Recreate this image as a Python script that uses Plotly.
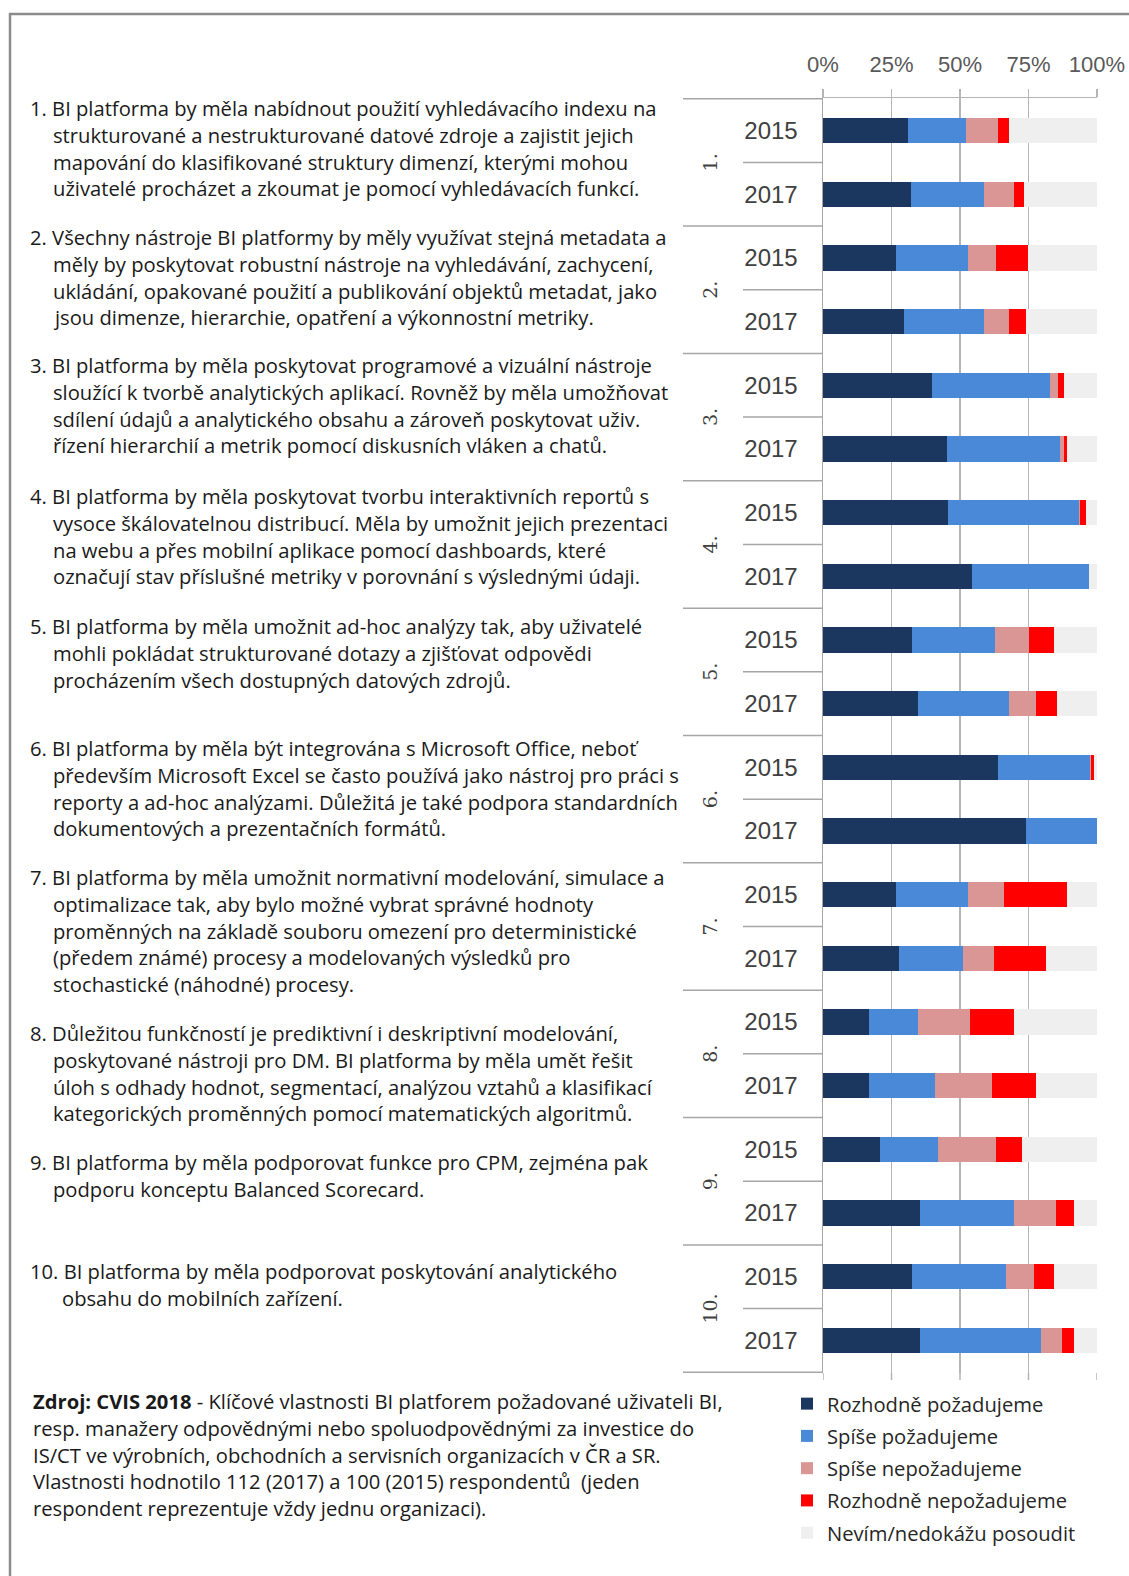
import plotly.graph_objects as go

# ---------------- data ----------------
groups = ["1.", "2.", "3.", "4.", "5.", "6.", "7.", "8.", "9.", "10."]
years = ["2015", "2017"]
categories = [f"{g} {y}" for g in groups for y in years]

rozhodne_pozadujeme = [31.0, 32.2, 26.8, 29.6, 39.8, 45.4, 45.6, 54.4, 32.5, 34.5,
                       63.9, 74.1, 26.6, 27.6, 16.9, 16.9, 20.8, 35.3, 32.5, 35.3]
spise_pozadujeme = [21.1, 26.7, 26.2, 29.3, 43.2, 41.2, 47.7, 42.6, 30.4, 33.3,
                    33.4, 25.9, 26.4, 23.4, 17.8, 23.9, 21.2, 34.5, 34.4, 44.4]
spise_nepozadujeme = [11.8, 10.7, 10.0, 8.9, 2.8, 1.2, 0.4, 0.0, 12.2, 9.9,
                      0.4, 0.0, 13.1, 11.3, 18.9, 20.9, 21.0, 15.4, 10.1, 7.6]
rozhodne_nepozadujeme = [4.0, 3.8, 11.9, 6.3, 2.3, 1.3, 2.2, 0.0, 9.2, 7.7,
                         1.2, 0.0, 23.0, 19.0, 16.2, 16.0, 9.6, 6.5, 7.2, 4.4]
nevim = [32.1, 26.6, 25.1, 25.9, 11.9, 10.9, 4.1, 3.0, 15.7, 14.6,
         1.1, 0.0, 10.9, 18.7, 30.2, 22.3, 27.4, 8.3, 15.8, 8.3]

series_names = ["Rozhodně požadujeme", "Spíše požadujeme", "Spíše nepožadujeme",
                "Rozhodně nepožadujeme", "Nevím/nedokážu posoudit"]
series_values = [rozhodne_pozadujeme, spise_pozadujeme, spise_nepozadujeme,
                 rozhodne_nepozadujeme, nevim]
series_colors = ["#1B365F", "#4A88D8", "#D99694", "#FF0000", "#EFEFEF"]

x_ticks = [0, 25, 50, 75, 100]

descriptions = [
    ["1. BI platforma by měla nabídnout použití vyhledávacího indexu na",
     "strukturované a nestrukturované datové zdroje a zajistit jejich",
     "mapování do klasifikované struktury dimenzí, kterými mohou",
     "uživatelé procházet a zkoumat je pomocí vyhledávacích funkcí."],
    ["2. Všechny nástroje BI platformy by měly využívat stejná metadata a",
     "měly by poskytovat robustní nástroje na vyhledávání, zachycení,",
     "ukládání, opakované použití a publikování objektů metadat, jako",
     "jsou dimenze, hierarchie, opatření a výkonnostní metriky."],
    ["3. BI platforma by měla poskytovat programové a vizuální nástroje",
     "sloužící k tvorbě analytických aplikací. Rovněž by měla umožňovat",
     "sdílení údajů a analytického obsahu a zároveň poskytovat uživ.",
     "řízení hierarchií a metrik pomocí diskusních vláken a chatů."],
    ["4. BI platforma by měla poskytovat tvorbu interaktivních reportů s",
     "vysoce škálovatelnou distribucí. Měla by umožnit jejich prezentaci",
     "na webu a přes mobilní aplikace pomocí dashboards, které",
     "označují stav příslušné metriky v porovnání s výslednými údaji."],
    ["5. BI platforma by měla umožnit ad-hoc analýzy tak, aby uživatelé",
     "mohli pokládat strukturované dotazy a zjišťovat odpovědi",
     "procházením všech dostupných datových zdrojů."],
    ["6. BI platforma by měla být integrována s Microsoft Office, neboť",
     "především Microsoft Excel se často používá jako nástroj pro práci s",
     "reporty a ad-hoc analýzami. Důležitá je také podpora standardních",
     "dokumentových a prezentačních formátů."],
    ["7. BI platforma by měla umožnit normativní modelování, simulace a",
     "optimalizace tak, aby bylo možné vybrat správné hodnoty",
     "proměnných na základě souboru omezení pro deterministické",
     "(předem známé) procesy a modelovaných výsledků pro",
     "stochastické (náhodné) procesy."],
    ["8. Důležitou funkčností je prediktivní i deskriptivní modelování,",
     "poskytované nástroji pro DM. BI platforma by měla umět řešit",
     "úloh s odhady hodnot, segmentací, analýzou vztahů a klasifikací",
     "kategorických proměnných pomocí matematických algoritmů."],
    ["9. BI platforma by měla podporovat funkce pro CPM, zejména pak",
     "podporu konceptu Balanced Scorecard."],
    ["10. BI platforma by měla podporovat poskytování analytického",
     "obsahu do mobilních zařízení."],
]

source_lines = [
    "<b>Zdroj: CVIS 2018</b> - Klíčové vlastnosti BI platforem požadované uživateli BI,",
    "resp. manažery odpovědnými nebo spoluodpovědnými za investice do",
    "IS/CT ve výrobních, obchodních a servisních organizacích v ČR a SR.",
    "Vlastnosti hodnotilo 112 (2017) a 100 (2015) respondentů  (jeden",
    "respondent reprezentuje vždy jednu organizaci).",
]

# ---------------- layout constants ----------------
W, H = 1129, 1576
def px(x):
    return x / W
def py(y):
    return 1 - y / H

TEXT_FONT = "'Open Sans', Lato, sans-serif"
TEXT_SIZE = 20.2
AX_FONT = "'Liberation Sans', Arial, sans-serif"

fig = go.Figure()
for name, vals, col in zip(series_names, series_values, series_colors):
    fig.add_trace(go.Bar(
        y=categories, x=vals, name=name, orientation="h",
        marker=dict(color=col, line=dict(width=0)),
        legendgroup=name,
    ))

fig.update_layout(
    width=W, height=H,
    margin=dict(l=0, r=0, t=0, b=0, autoexpand=False),
    paper_bgcolor="white", plot_bgcolor="white",
    barmode="stack", bargap=0.6,
    showlegend=True,
    legend=dict(
        x=px(787), y=py(1384), xanchor="left", yanchor="top",
        traceorder="grouped", tracegroupgap=3,
        font=dict(family=TEXT_FONT, size=TEXT_SIZE, color="#262626"),
        bgcolor="rgba(0,0,0,0)", itemclick=False,
    ),
    xaxis=dict(
        domain=[px(823), px(1097)], range=[0, 100], side="top",
        tickvals=x_ticks, ticktext=[f"{t}%" for t in x_ticks],
        showgrid=True, gridcolor="#B5B5B5", gridwidth=1.5,
        zeroline=False, showline=True, linecolor="#B5B5B5", linewidth=1.5,
        ticks="outside", ticklen=8, tickcolor="#B5B5B5", tickwidth=1.5,
        ticklabelstandoff=8, automargin=False,
        tickfont=dict(family=AX_FONT, size=22, color="#595959"),
        fixedrange=True,
    ),
    yaxis=dict(
        domain=[py(1373), py(98)], autorange="reversed",
        type="category", categoryorder="array", categoryarray=categories,
        tickvals=categories, ticktext=[y for g in groups for y in years],
        showgrid=False, zeroline=False,
        showline=True, linecolor="#A6A6A6", linewidth=1.5,
        ticks="", ticklabelstandoff=19, automargin=False,
        tickfont=dict(family=AX_FONT, size=24, color="#404040"),
        fixedrange=True,
    ),
)

shapes = []
# outer frame
shapes.append(dict(type="rect", xref="paper", yref="paper",
                   x0=px(10), x1=1.05, y0=-0.05, y1=py(14),
                   line=dict(color="#8C8C8C", width=2.5), fillcolor="rgba(0,0,0,0)",
                   layer="above"))
# category separators
n = len(categories)
for k in range(n + 1):
    yv = k - 0.5
    x0 = px(683) if k % 2 == 0 else px(743)
    shapes.append(dict(type="line", xref="paper", yref="y",
                       x0=x0, x1=px(823), y0=yv, y1=yv,
                       line=dict(color="#A6A6A6", width=1.5)))
# gridline stubs below the plot
for t in x_ticks:
    shapes.append(dict(type="line", xref="x", yref="paper",
                       x0=t, x1=t, y0=py(1380), y1=py(1373),
                       line=dict(color="#B5B5B5", width=1.5)))
fig.update_layout(shapes=shapes)

ann = []
# group labels (rotated)
for i, g in enumerate(groups):
    ann.append(dict(text=g, xref="paper", yref="y", x=px(710), y=2 * i + 0.5,
                    showarrow=False, textangle=-90,
                    font=dict(family="'DejaVu Serif', 'Liberation Serif', serif", size=19, color="#404040"),
                    xanchor="center", yanchor="middle"))

# descriptions
para_y = [108, 237, 365, 496, 626, 748, 877, 1033, 1162, 1271]
line_h = 26.8
for i, lines in enumerate(descriptions):
    for j, line in enumerate(lines):
        if j == 0:
            x = 28
        else:
            x = 60 if i == 9 else 51
        ann.append(dict(text=line, xref="paper", yref="paper",
                        x=px(x), y=py(para_y[i] + j * line_h),
                        xanchor="left", yanchor="middle", showarrow=False,
                        font=dict(family=TEXT_FONT, size=TEXT_SIZE, color="#1A1A1A")))

# source note
for j, line in enumerate(source_lines):
    ann.append(dict(text=line, xref="paper", yref="paper",
                    x=px(31), y=py(1401 + j * 26.8),
                    xanchor="left", yanchor="middle", showarrow=False,
                    font=dict(family=TEXT_FONT, size=TEXT_SIZE, color="#1A1A1A")))

fig.update_layout(annotations=ann)

fig.write_html(
    "out.html",
    config={"displayModeBar": False, "staticPlot": True},
    post_script="document.body.style.margin='0';document.body.style.overflow='hidden';",
)
